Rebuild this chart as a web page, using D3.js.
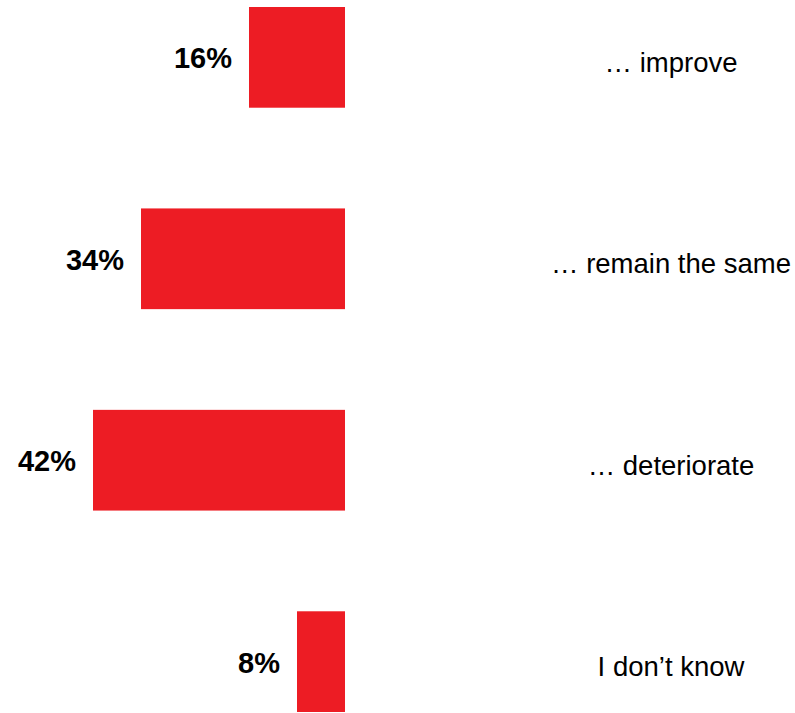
<!DOCTYPE html>
<html>
<head>
<meta charset="utf-8">
<script src="https://cdn.jsdelivr.net/npm/d3@7"></script>
<style>
  html, body { margin: 0; padding: 0; background: #fff; }
  svg { display: block; }
  text { font-family: "Liberation Sans", Arial, Helvetica, sans-serif; }
</style>
</head>
<body>
<svg id="chart" width="795" height="713"></svg>
<script>
// Survey answers: expected development
const categories = ["… improve", "… remain the same", "… deteriorate", "I don’t know"];
const values = [16, 34, 42, 8];

const width = 795, height = 713;
const barRight = 345;
const svg = d3.select("#chart");

// Bars grow leftward from a common right edge
const x = d3.scaleLinear().domain([0, 42]).range([0, 252]);
const y = d3.scaleBand().domain(categories).range([7, 712]).paddingInner(0.5).paddingOuter(0);

const g = svg.append("g");

g.selectAll("rect")
  .data(values)
  .join("rect")
  .attr("x", d => barRight - x(d))
  .attr("y", (d, i) => y(categories[i]))
  .attr("width", d => x(d))
  .attr("height", y.bandwidth())
  .attr("fill", "#ED1C24");

// Value labels, to the left of each bar
g.selectAll("text.value")
  .data(values)
  .join("text")
  .attr("class", "value")
  .attr("x", d => barRight - x(d) - 17)
  .attr("y", (d, i) => y(categories[i]) + y.bandwidth() / 2)
  .attr("dy", "0.38em")
  .attr("text-anchor", "end")
  .attr("font-size", 29)
  .attr("font-weight", "bold")
  .attr("fill", "#000")
  .text(d => d + "%");

// Category labels on the right
g.selectAll("text.cat")
  .data(categories)
  .join("text")
  .attr("class", "cat")
  .attr("x", 671)
  .attr("y", d => y(d) + y.bandwidth() / 2)
  .attr("dy", "0.53em")
  .attr("text-anchor", "middle")
  .attr("font-size", 27.5)
  .attr("fill", "#000")
  .text(d => d);
</script>
</body>
</html>
